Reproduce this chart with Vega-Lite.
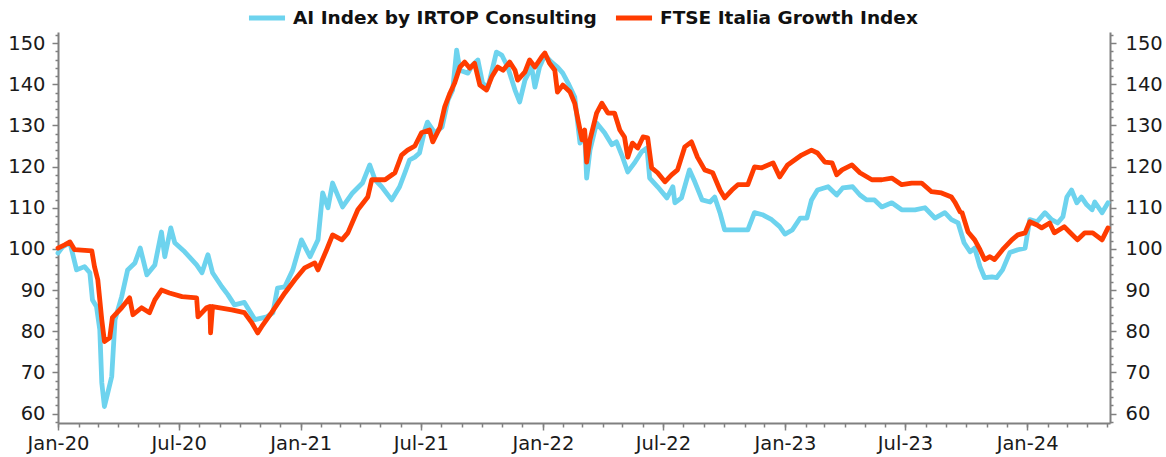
{
  "$schema": "https://vega.github.io/schema/vega-lite/v6.json",
  "width": 1052,
  "height": 391,
  "autosize": {"type": "none"},
  "padding": {"left": 58, "top": 32, "right": 56, "bottom": 34},
  "config": {
    "view": {"stroke": null},
    "font": "DejaVu Sans",
    "axis": {
      "domainColor": "#808080",
      "domainWidth": 2,
      "tickColor": "#808080",
      "tickWidth": 1.5,
      "labelColor": "#1a1a1a",
      "labelFont": "DejaVu Sans",
      "labelFontSize": 19.5,
      "grid": false,
      "title": null
    }
  },
  "datasets": {
    "series": [
      {"d":"2020-01-01","s":"AI Index by IRTOP Consulting","v":99.0},
      {"d":"2020-01-08","s":"AI Index by IRTOP Consulting","v":100.5},
      {"d":"2020-01-19","s":"AI Index by IRTOP Consulting","v":101.5},
      {"d":"2020-01-29","s":"AI Index by IRTOP Consulting","v":94.9},
      {"d":"2020-02-10","s":"AI Index by IRTOP Consulting","v":95.7},
      {"d":"2020-02-18","s":"AI Index by IRTOP Consulting","v":94.2},
      {"d":"2020-02-22","s":"AI Index by IRTOP Consulting","v":87.6},
      {"d":"2020-02-28","s":"AI Index by IRTOP Consulting","v":86.0},
      {"d":"2020-03-04","s":"AI Index by IRTOP Consulting","v":80.4},
      {"d":"2020-03-07","s":"AI Index by IRTOP Consulting","v":67.5},
      {"d":"2020-03-11","s":"AI Index by IRTOP Consulting","v":61.7},
      {"d":"2020-03-16","s":"AI Index by IRTOP Consulting","v":65.0},
      {"d":"2020-03-22","s":"AI Index by IRTOP Consulting","v":69.0},
      {"d":"2020-03-27","s":"AI Index by IRTOP Consulting","v":82.8},
      {"d":"2020-04-06","s":"AI Index by IRTOP Consulting","v":88.4},
      {"d":"2020-04-15","s":"AI Index by IRTOP Consulting","v":94.9},
      {"d":"2020-04-26","s":"AI Index by IRTOP Consulting","v":96.6},
      {"d":"2020-05-04","s":"AI Index by IRTOP Consulting","v":100.2},
      {"d":"2020-05-14","s":"AI Index by IRTOP Consulting","v":93.7},
      {"d":"2020-05-26","s":"AI Index by IRTOP Consulting","v":96.1},
      {"d":"2020-06-05","s":"AI Index by IRTOP Consulting","v":104.1},
      {"d":"2020-06-10","s":"AI Index by IRTOP Consulting","v":98.1},
      {"d":"2020-06-19","s":"AI Index by IRTOP Consulting","v":105.1},
      {"d":"2020-06-25","s":"AI Index by IRTOP Consulting","v":101.5},
      {"d":"2020-07-10","s":"AI Index by IRTOP Consulting","v":99.3},
      {"d":"2020-07-28","s":"AI Index by IRTOP Consulting","v":96.1},
      {"d":"2020-08-05","s":"AI Index by IRTOP Consulting","v":94.2},
      {"d":"2020-08-14","s":"AI Index by IRTOP Consulting","v":98.6},
      {"d":"2020-08-21","s":"AI Index by IRTOP Consulting","v":94.2},
      {"d":"2020-09-04","s":"AI Index by IRTOP Consulting","v":90.8},
      {"d":"2020-09-13","s":"AI Index by IRTOP Consulting","v":88.9},
      {"d":"2020-09-23","s":"AI Index by IRTOP Consulting","v":86.4},
      {"d":"2020-10-08","s":"AI Index by IRTOP Consulting","v":87.0},
      {"d":"2020-10-24","s":"AI Index by IRTOP Consulting","v":82.8},
      {"d":"2020-11-11","s":"AI Index by IRTOP Consulting","v":83.5},
      {"d":"2020-11-20","s":"AI Index by IRTOP Consulting","v":84.5},
      {"d":"2020-11-27","s":"AI Index by IRTOP Consulting","v":90.5},
      {"d":"2020-12-08","s":"AI Index by IRTOP Consulting","v":90.8},
      {"d":"2020-12-20","s":"AI Index by IRTOP Consulting","v":94.9},
      {"d":"2021-01-02","s":"AI Index by IRTOP Consulting","v":102.2},
      {"d":"2021-01-15","s":"AI Index by IRTOP Consulting","v":98.1},
      {"d":"2021-01-27","s":"AI Index by IRTOP Consulting","v":102.2},
      {"d":"2021-02-03","s":"AI Index by IRTOP Consulting","v":113.6},
      {"d":"2021-02-11","s":"AI Index by IRTOP Consulting","v":110.0},
      {"d":"2021-02-18","s":"AI Index by IRTOP Consulting","v":116.0},
      {"d":"2021-03-05","s":"AI Index by IRTOP Consulting","v":110.2},
      {"d":"2021-03-20","s":"AI Index by IRTOP Consulting","v":113.6},
      {"d":"2021-04-04","s":"AI Index by IRTOP Consulting","v":116.0},
      {"d":"2021-04-15","s":"AI Index by IRTOP Consulting","v":120.4},
      {"d":"2021-04-23","s":"AI Index by IRTOP Consulting","v":116.8},
      {"d":"2021-05-03","s":"AI Index by IRTOP Consulting","v":115.1},
      {"d":"2021-05-18","s":"AI Index by IRTOP Consulting","v":111.9},
      {"d":"2021-05-30","s":"AI Index by IRTOP Consulting","v":115.1},
      {"d":"2021-06-07","s":"AI Index by IRTOP Consulting","v":118.5},
      {"d":"2021-06-14","s":"AI Index by IRTOP Consulting","v":121.6},
      {"d":"2021-06-22","s":"AI Index by IRTOP Consulting","v":122.3},
      {"d":"2021-06-29","s":"AI Index by IRTOP Consulting","v":123.3},
      {"d":"2021-07-07","s":"AI Index by IRTOP Consulting","v":128.9},
      {"d":"2021-07-11","s":"AI Index by IRTOP Consulting","v":130.8},
      {"d":"2021-07-22","s":"AI Index by IRTOP Consulting","v":128.2},
      {"d":"2021-08-02","s":"AI Index by IRTOP Consulting","v":129.6},
      {"d":"2021-08-11","s":"AI Index by IRTOP Consulting","v":136.2},
      {"d":"2021-08-18","s":"AI Index by IRTOP Consulting","v":138.6},
      {"d":"2021-08-24","s":"AI Index by IRTOP Consulting","v":148.3},
      {"d":"2021-08-29","s":"AI Index by IRTOP Consulting","v":143.4},
      {"d":"2021-09-10","s":"AI Index by IRTOP Consulting","v":142.7},
      {"d":"2021-09-17","s":"AI Index by IRTOP Consulting","v":144.7},
      {"d":"2021-09-25","s":"AI Index by IRTOP Consulting","v":145.9},
      {"d":"2021-10-02","s":"AI Index by IRTOP Consulting","v":140.3},
      {"d":"2021-10-10","s":"AI Index by IRTOP Consulting","v":139.1},
      {"d":"2021-10-23","s":"AI Index by IRTOP Consulting","v":147.8},
      {"d":"2021-10-31","s":"AI Index by IRTOP Consulting","v":147.1},
      {"d":"2021-11-09","s":"AI Index by IRTOP Consulting","v":144.2},
      {"d":"2021-11-20","s":"AI Index by IRTOP Consulting","v":138.6},
      {"d":"2021-11-27","s":"AI Index by IRTOP Consulting","v":135.7},
      {"d":"2021-12-05","s":"AI Index by IRTOP Consulting","v":141.0},
      {"d":"2021-12-15","s":"AI Index by IRTOP Consulting","v":144.2},
      {"d":"2021-12-20","s":"AI Index by IRTOP Consulting","v":139.3},
      {"d":"2021-12-27","s":"AI Index by IRTOP Consulting","v":144.2},
      {"d":"2022-01-04","s":"AI Index by IRTOP Consulting","v":147.1},
      {"d":"2022-01-14","s":"AI Index by IRTOP Consulting","v":145.4},
      {"d":"2022-01-23","s":"AI Index by IRTOP Consulting","v":144.2},
      {"d":"2022-01-31","s":"AI Index by IRTOP Consulting","v":142.7},
      {"d":"2022-02-08","s":"AI Index by IRTOP Consulting","v":140.3},
      {"d":"2022-02-18","s":"AI Index by IRTOP Consulting","v":136.9},
      {"d":"2022-02-26","s":"AI Index by IRTOP Consulting","v":125.7},
      {"d":"2022-03-05","s":"AI Index by IRTOP Consulting","v":128.2},
      {"d":"2022-03-08","s":"AI Index by IRTOP Consulting","v":117.2},
      {"d":"2022-03-13","s":"AI Index by IRTOP Consulting","v":124.0},
      {"d":"2022-03-23","s":"AI Index by IRTOP Consulting","v":130.6},
      {"d":"2022-04-04","s":"AI Index by IRTOP Consulting","v":128.2},
      {"d":"2022-04-15","s":"AI Index by IRTOP Consulting","v":125.3},
      {"d":"2022-04-22","s":"AI Index by IRTOP Consulting","v":126.0},
      {"d":"2022-04-30","s":"AI Index by IRTOP Consulting","v":122.8},
      {"d":"2022-05-09","s":"AI Index by IRTOP Consulting","v":118.7},
      {"d":"2022-05-20","s":"AI Index by IRTOP Consulting","v":121.1},
      {"d":"2022-05-30","s":"AI Index by IRTOP Consulting","v":123.6},
      {"d":"2022-06-07","s":"AI Index by IRTOP Consulting","v":124.5},
      {"d":"2022-06-11","s":"AI Index by IRTOP Consulting","v":117.2},
      {"d":"2022-06-23","s":"AI Index by IRTOP Consulting","v":115.1},
      {"d":"2022-07-07","s":"AI Index by IRTOP Consulting","v":112.4},
      {"d":"2022-07-16","s":"AI Index by IRTOP Consulting","v":115.1},
      {"d":"2022-07-19","s":"AI Index by IRTOP Consulting","v":111.2},
      {"d":"2022-07-29","s":"AI Index by IRTOP Consulting","v":112.4},
      {"d":"2022-08-10","s":"AI Index by IRTOP Consulting","v":119.2},
      {"d":"2022-08-18","s":"AI Index by IRTOP Consulting","v":116.3},
      {"d":"2022-08-29","s":"AI Index by IRTOP Consulting","v":111.9},
      {"d":"2022-09-10","s":"AI Index by IRTOP Consulting","v":111.4},
      {"d":"2022-09-17","s":"AI Index by IRTOP Consulting","v":112.6},
      {"d":"2022-09-25","s":"AI Index by IRTOP Consulting","v":108.8},
      {"d":"2022-10-02","s":"AI Index by IRTOP Consulting","v":104.6},
      {"d":"2022-10-17","s":"AI Index by IRTOP Consulting","v":104.6},
      {"d":"2022-11-06","s":"AI Index by IRTOP Consulting","v":104.6},
      {"d":"2022-11-16","s":"AI Index by IRTOP Consulting","v":108.8},
      {"d":"2022-11-28","s":"AI Index by IRTOP Consulting","v":108.3},
      {"d":"2022-12-12","s":"AI Index by IRTOP Consulting","v":107.1},
      {"d":"2022-12-24","s":"AI Index by IRTOP Consulting","v":105.4},
      {"d":"2023-01-01","s":"AI Index by IRTOP Consulting","v":103.6},
      {"d":"2023-01-12","s":"AI Index by IRTOP Consulting","v":104.6},
      {"d":"2023-01-24","s":"AI Index by IRTOP Consulting","v":107.5},
      {"d":"2023-02-03","s":"AI Index by IRTOP Consulting","v":107.5},
      {"d":"2023-02-10","s":"AI Index by IRTOP Consulting","v":111.9},
      {"d":"2023-02-19","s":"AI Index by IRTOP Consulting","v":114.3},
      {"d":"2023-03-07","s":"AI Index by IRTOP Consulting","v":115.1},
      {"d":"2023-03-20","s":"AI Index by IRTOP Consulting","v":113.1},
      {"d":"2023-03-29","s":"AI Index by IRTOP Consulting","v":114.8},
      {"d":"2023-04-13","s":"AI Index by IRTOP Consulting","v":115.1},
      {"d":"2023-04-24","s":"AI Index by IRTOP Consulting","v":113.1},
      {"d":"2023-05-04","s":"AI Index by IRTOP Consulting","v":111.9},
      {"d":"2023-05-16","s":"AI Index by IRTOP Consulting","v":111.9},
      {"d":"2023-05-27","s":"AI Index by IRTOP Consulting","v":110.2},
      {"d":"2023-06-11","s":"AI Index by IRTOP Consulting","v":111.2},
      {"d":"2023-06-26","s":"AI Index by IRTOP Consulting","v":109.5},
      {"d":"2023-07-16","s":"AI Index by IRTOP Consulting","v":109.5},
      {"d":"2023-07-31","s":"AI Index by IRTOP Consulting","v":110.0},
      {"d":"2023-08-15","s":"AI Index by IRTOP Consulting","v":107.5},
      {"d":"2023-08-30","s":"AI Index by IRTOP Consulting","v":108.8},
      {"d":"2023-09-09","s":"AI Index by IRTOP Consulting","v":107.1},
      {"d":"2023-09-19","s":"AI Index by IRTOP Consulting","v":106.3},
      {"d":"2023-09-28","s":"AI Index by IRTOP Consulting","v":101.5},
      {"d":"2023-10-07","s":"AI Index by IRTOP Consulting","v":99.3},
      {"d":"2023-10-14","s":"AI Index by IRTOP Consulting","v":100.2},
      {"d":"2023-10-22","s":"AI Index by IRTOP Consulting","v":95.7},
      {"d":"2023-10-29","s":"AI Index by IRTOP Consulting","v":93.0},
      {"d":"2023-11-09","s":"AI Index by IRTOP Consulting","v":93.2},
      {"d":"2023-11-16","s":"AI Index by IRTOP Consulting","v":93.0},
      {"d":"2023-11-25","s":"AI Index by IRTOP Consulting","v":94.9},
      {"d":"2023-12-06","s":"AI Index by IRTOP Consulting","v":99.1},
      {"d":"2023-12-18","s":"AI Index by IRTOP Consulting","v":99.8},
      {"d":"2023-12-29","s":"AI Index by IRTOP Consulting","v":100.2},
      {"d":"2024-01-05","s":"AI Index by IRTOP Consulting","v":107.1},
      {"d":"2024-01-16","s":"AI Index by IRTOP Consulting","v":106.6},
      {"d":"2024-01-28","s":"AI Index by IRTOP Consulting","v":108.8},
      {"d":"2024-02-07","s":"AI Index by IRTOP Consulting","v":107.1},
      {"d":"2024-02-16","s":"AI Index by IRTOP Consulting","v":106.3},
      {"d":"2024-02-24","s":"AI Index by IRTOP Consulting","v":107.8},
      {"d":"2024-03-01","s":"AI Index by IRTOP Consulting","v":112.6},
      {"d":"2024-03-08","s":"AI Index by IRTOP Consulting","v":114.3},
      {"d":"2024-03-16","s":"AI Index by IRTOP Consulting","v":111.2},
      {"d":"2024-03-23","s":"AI Index by IRTOP Consulting","v":112.6},
      {"d":"2024-03-31","s":"AI Index by IRTOP Consulting","v":110.7},
      {"d":"2024-04-08","s":"AI Index by IRTOP Consulting","v":109.5},
      {"d":"2024-04-12","s":"AI Index by IRTOP Consulting","v":111.4},
      {"d":"2024-04-23","s":"AI Index by IRTOP Consulting","v":108.8},
      {"d":"2024-05-02","s":"AI Index by IRTOP Consulting","v":111.2},

      {"d":"2020-01-01","s":"FTSE Italia Growth Index","v":100.2},
      {"d":"2020-01-11","s":"FTSE Italia Growth Index","v":101.0},
      {"d":"2020-01-19","s":"FTSE Italia Growth Index","v":101.7},
      {"d":"2020-01-26","s":"FTSE Italia Growth Index","v":99.8},
      {"d":"2020-02-21","s":"FTSE Italia Growth Index","v":99.5},
      {"d":"2020-02-25","s":"FTSE Italia Growth Index","v":95.7},
      {"d":"2020-03-01","s":"FTSE Italia Growth Index","v":92.5},
      {"d":"2020-03-07","s":"FTSE Italia Growth Index","v":82.8},
      {"d":"2020-03-11","s":"FTSE Italia Growth Index","v":77.5},
      {"d":"2020-03-19","s":"FTSE Italia Growth Index","v":78.4},
      {"d":"2020-03-23","s":"FTSE Italia Growth Index","v":83.3},
      {"d":"2020-04-06","s":"FTSE Italia Growth Index","v":85.7},
      {"d":"2020-04-18","s":"FTSE Italia Growth Index","v":88.1},
      {"d":"2020-04-23","s":"FTSE Italia Growth Index","v":84.0},
      {"d":"2020-05-06","s":"FTSE Italia Growth Index","v":85.7},
      {"d":"2020-05-18","s":"FTSE Italia Growth Index","v":84.5},
      {"d":"2020-05-26","s":"FTSE Italia Growth Index","v":87.6},
      {"d":"2020-06-05","s":"FTSE Italia Growth Index","v":90.0},
      {"d":"2020-06-17","s":"FTSE Italia Growth Index","v":89.3},
      {"d":"2020-07-06","s":"FTSE Italia Growth Index","v":88.4},
      {"d":"2020-07-28","s":"FTSE Italia Growth Index","v":88.1},
      {"d":"2020-07-30","s":"FTSE Italia Growth Index","v":83.5},
      {"d":"2020-08-12","s":"FTSE Italia Growth Index","v":85.7},
      {"d":"2020-08-17","s":"FTSE Italia Growth Index","v":86.0},
      {"d":"2020-08-18","s":"FTSE Italia Growth Index","v":79.6},
      {"d":"2020-08-21","s":"FTSE Italia Growth Index","v":86.0},
      {"d":"2020-09-19","s":"FTSE Italia Growth Index","v":85.2},
      {"d":"2020-10-08","s":"FTSE Italia Growth Index","v":84.5},
      {"d":"2020-10-19","s":"FTSE Italia Growth Index","v":82.1},
      {"d":"2020-10-28","s":"FTSE Italia Growth Index","v":79.6},
      {"d":"2020-11-03","s":"FTSE Italia Growth Index","v":81.1},
      {"d":"2020-11-18","s":"FTSE Italia Growth Index","v":84.5},
      {"d":"2020-12-08","s":"FTSE Italia Growth Index","v":89.3},
      {"d":"2020-12-23","s":"FTSE Italia Growth Index","v":92.5},
      {"d":"2021-01-07","s":"FTSE Italia Growth Index","v":95.4},
      {"d":"2021-01-22","s":"FTSE Italia Growth Index","v":96.6},
      {"d":"2021-01-27","s":"FTSE Italia Growth Index","v":94.9},
      {"d":"2021-02-09","s":"FTSE Italia Growth Index","v":99.8},
      {"d":"2021-02-18","s":"FTSE Italia Growth Index","v":103.4},
      {"d":"2021-03-04","s":"FTSE Italia Growth Index","v":102.2},
      {"d":"2021-03-13","s":"FTSE Italia Growth Index","v":103.9},
      {"d":"2021-03-28","s":"FTSE Italia Growth Index","v":109.5},
      {"d":"2021-04-12","s":"FTSE Italia Growth Index","v":112.6},
      {"d":"2021-04-18","s":"FTSE Italia Growth Index","v":116.8},
      {"d":"2021-05-08","s":"FTSE Italia Growth Index","v":116.8},
      {"d":"2021-05-23","s":"FTSE Italia Growth Index","v":118.5},
      {"d":"2021-06-02","s":"FTSE Italia Growth Index","v":122.8},
      {"d":"2021-06-11","s":"FTSE Italia Growth Index","v":124.0},
      {"d":"2021-06-22","s":"FTSE Italia Growth Index","v":125.0},
      {"d":"2021-07-02","s":"FTSE Italia Growth Index","v":128.2},
      {"d":"2021-07-14","s":"FTSE Italia Growth Index","v":128.9},
      {"d":"2021-07-19","s":"FTSE Italia Growth Index","v":126.0},
      {"d":"2021-07-30","s":"FTSE Italia Growth Index","v":129.6},
      {"d":"2021-08-06","s":"FTSE Italia Growth Index","v":134.5},
      {"d":"2021-08-14","s":"FTSE Italia Growth Index","v":137.9},
      {"d":"2021-08-21","s":"FTSE Italia Growth Index","v":140.3},
      {"d":"2021-08-29","s":"FTSE Italia Growth Index","v":144.2},
      {"d":"2021-09-05","s":"FTSE Italia Growth Index","v":145.4},
      {"d":"2021-09-13","s":"FTSE Italia Growth Index","v":143.9},
      {"d":"2021-09-20","s":"FTSE Italia Growth Index","v":145.1},
      {"d":"2021-09-28","s":"FTSE Italia Growth Index","v":139.8},
      {"d":"2021-10-08","s":"FTSE Italia Growth Index","v":138.6},
      {"d":"2021-10-16","s":"FTSE Italia Growth Index","v":141.8},
      {"d":"2021-10-25","s":"FTSE Italia Growth Index","v":144.2},
      {"d":"2021-11-02","s":"FTSE Italia Growth Index","v":143.4},
      {"d":"2021-11-12","s":"FTSE Italia Growth Index","v":145.4},
      {"d":"2021-11-20","s":"FTSE Italia Growth Index","v":143.4},
      {"d":"2021-11-24","s":"FTSE Italia Growth Index","v":141.0},
      {"d":"2021-12-05","s":"FTSE Italia Growth Index","v":143.0},
      {"d":"2021-12-12","s":"FTSE Italia Growth Index","v":145.9},
      {"d":"2021-12-20","s":"FTSE Italia Growth Index","v":144.2},
      {"d":"2021-12-30","s":"FTSE Italia Growth Index","v":146.6},
      {"d":"2022-01-04","s":"FTSE Italia Growth Index","v":147.6},
      {"d":"2022-01-11","s":"FTSE Italia Growth Index","v":145.1},
      {"d":"2022-01-19","s":"FTSE Italia Growth Index","v":143.4},
      {"d":"2022-01-23","s":"FTSE Italia Growth Index","v":138.1},
      {"d":"2022-01-31","s":"FTSE Italia Growth Index","v":139.8},
      {"d":"2022-02-11","s":"FTSE Italia Growth Index","v":138.1},
      {"d":"2022-02-18","s":"FTSE Italia Growth Index","v":135.4},
      {"d":"2022-02-23","s":"FTSE Italia Growth Index","v":131.3},
      {"d":"2022-03-01","s":"FTSE Italia Growth Index","v":126.5},
      {"d":"2022-03-05","s":"FTSE Italia Growth Index","v":128.9},
      {"d":"2022-03-08","s":"FTSE Italia Growth Index","v":121.1},
      {"d":"2022-03-13","s":"FTSE Italia Growth Index","v":126.5},
      {"d":"2022-03-23","s":"FTSE Italia Growth Index","v":133.0},
      {"d":"2022-03-31","s":"FTSE Italia Growth Index","v":135.4},
      {"d":"2022-04-09","s":"FTSE Italia Growth Index","v":133.0},
      {"d":"2022-04-19","s":"FTSE Italia Growth Index","v":133.0},
      {"d":"2022-04-27","s":"FTSE Italia Growth Index","v":128.9},
      {"d":"2022-05-04","s":"FTSE Italia Growth Index","v":127.2},
      {"d":"2022-05-09","s":"FTSE Italia Growth Index","v":122.3},
      {"d":"2022-05-16","s":"FTSE Italia Growth Index","v":125.7},
      {"d":"2022-05-24","s":"FTSE Italia Growth Index","v":124.5},
      {"d":"2022-06-01","s":"FTSE Italia Growth Index","v":127.2},
      {"d":"2022-06-08","s":"FTSE Italia Growth Index","v":127.0},
      {"d":"2022-06-14","s":"FTSE Italia Growth Index","v":119.7},
      {"d":"2022-06-23","s":"FTSE Italia Growth Index","v":118.5},
      {"d":"2022-07-04","s":"FTSE Italia Growth Index","v":116.3},
      {"d":"2022-07-14","s":"FTSE Italia Growth Index","v":118.0},
      {"d":"2022-07-23","s":"FTSE Italia Growth Index","v":119.2},
      {"d":"2022-08-03","s":"FTSE Italia Growth Index","v":124.8},
      {"d":"2022-08-13","s":"FTSE Italia Growth Index","v":126.0},
      {"d":"2022-08-22","s":"FTSE Italia Growth Index","v":122.3},
      {"d":"2022-09-02","s":"FTSE Italia Growth Index","v":119.2},
      {"d":"2022-09-14","s":"FTSE Italia Growth Index","v":118.5},
      {"d":"2022-09-25","s":"FTSE Italia Growth Index","v":114.3},
      {"d":"2022-10-02","s":"FTSE Italia Growth Index","v":112.4},
      {"d":"2022-10-13","s":"FTSE Italia Growth Index","v":114.3},
      {"d":"2022-10-22","s":"FTSE Italia Growth Index","v":115.6},
      {"d":"2022-11-06","s":"FTSE Italia Growth Index","v":115.6},
      {"d":"2022-11-16","s":"FTSE Italia Growth Index","v":119.9},
      {"d":"2022-11-27","s":"FTSE Italia Growth Index","v":119.7},
      {"d":"2022-12-14","s":"FTSE Italia Growth Index","v":120.9},
      {"d":"2022-12-24","s":"FTSE Italia Growth Index","v":117.5},
      {"d":"2023-01-05","s":"FTSE Italia Growth Index","v":120.4},
      {"d":"2023-01-26","s":"FTSE Italia Growth Index","v":122.8},
      {"d":"2023-02-10","s":"FTSE Italia Growth Index","v":124.0},
      {"d":"2023-02-19","s":"FTSE Italia Growth Index","v":123.3},
      {"d":"2023-03-02","s":"FTSE Italia Growth Index","v":121.1},
      {"d":"2023-03-13","s":"FTSE Italia Growth Index","v":120.9},
      {"d":"2023-03-20","s":"FTSE Italia Growth Index","v":118.0},
      {"d":"2023-03-28","s":"FTSE Italia Growth Index","v":119.2},
      {"d":"2023-04-12","s":"FTSE Italia Growth Index","v":120.4},
      {"d":"2023-04-24","s":"FTSE Italia Growth Index","v":118.5},
      {"d":"2023-05-12","s":"FTSE Italia Growth Index","v":116.8},
      {"d":"2023-05-27","s":"FTSE Italia Growth Index","v":116.8},
      {"d":"2023-06-11","s":"FTSE Italia Growth Index","v":117.2},
      {"d":"2023-06-26","s":"FTSE Italia Growth Index","v":115.6},
      {"d":"2023-07-11","s":"FTSE Italia Growth Index","v":116.0},
      {"d":"2023-07-26","s":"FTSE Italia Growth Index","v":116.0},
      {"d":"2023-08-10","s":"FTSE Italia Growth Index","v":113.9},
      {"d":"2023-08-25","s":"FTSE Italia Growth Index","v":113.6},
      {"d":"2023-09-09","s":"FTSE Italia Growth Index","v":112.6},
      {"d":"2023-09-14","s":"FTSE Italia Growth Index","v":111.4},
      {"d":"2023-09-22","s":"FTSE Italia Growth Index","v":109.0},
      {"d":"2023-09-25","s":"FTSE Italia Growth Index","v":108.8},
      {"d":"2023-10-04","s":"FTSE Italia Growth Index","v":104.1},
      {"d":"2023-10-14","s":"FTSE Italia Growth Index","v":102.2},
      {"d":"2023-10-22","s":"FTSE Italia Growth Index","v":99.8},
      {"d":"2023-10-29","s":"FTSE Italia Growth Index","v":97.4},
      {"d":"2023-11-06","s":"FTSE Italia Growth Index","v":98.1},
      {"d":"2023-11-13","s":"FTSE Italia Growth Index","v":97.4},
      {"d":"2023-11-25","s":"FTSE Italia Growth Index","v":99.8},
      {"d":"2023-12-09","s":"FTSE Italia Growth Index","v":102.2},
      {"d":"2023-12-18","s":"FTSE Italia Growth Index","v":103.4},
      {"d":"2023-12-29","s":"FTSE Italia Growth Index","v":103.9},
      {"d":"2024-01-05","s":"FTSE Italia Growth Index","v":106.6},
      {"d":"2024-01-16","s":"FTSE Italia Growth Index","v":105.8},
      {"d":"2024-01-23","s":"FTSE Italia Growth Index","v":105.1},
      {"d":"2024-02-04","s":"FTSE Italia Growth Index","v":106.3},
      {"d":"2024-02-11","s":"FTSE Italia Growth Index","v":103.9},
      {"d":"2024-02-26","s":"FTSE Italia Growth Index","v":105.4},
      {"d":"2024-03-05","s":"FTSE Italia Growth Index","v":104.1},
      {"d":"2024-03-17","s":"FTSE Italia Growth Index","v":102.2},
      {"d":"2024-03-28","s":"FTSE Italia Growth Index","v":103.9},
      {"d":"2024-04-09","s":"FTSE Italia Growth Index","v":103.9},
      {"d":"2024-04-23","s":"FTSE Italia Growth Index","v":102.2},
      {"d":"2024-05-02","s":"FTSE Italia Growth Index","v":105.1}
    ]
  },
  "data": {"name": "series"},
  "layer": [
    {
      "mark": {"type": "line", "strokeWidth": 4.8, "strokeJoin": "round", "strokeCap": "round"},
      "encoding": {
        "x": {
          "field": "d", "type": "temporal",
          "scale": {"type": "utc", "domain": [{"year": 2020, "month": 1, "date": 1, "utc": true}, {"year": 2024, "month": 5, "date": 5, "utc": true}]},
          "axis": {"orient": "bottom", "format": "%b-%y", "tickCount": {"interval": "month", "step": 6}, "tickSize": 7, "labelPadding": 4, "labelOverlap": false, "labelFlush": false}
        },
        "y": {
          "field": "v", "type": "quantitative",
          "scale": {"domain": [57.7, 152.7], "zero": false, "nice": false},
          "axis": {"orient": "left", "values": [60, 70, 80, 90, 100, 110, 120, 130, 140, 150], "tickSize": 6, "labelPadding": 7}
        },
        "color": {
          "field": "s", "type": "nominal",
          "scale": {"domain": ["AI Index by IRTOP Consulting", "FTSE Italia Growth Index"], "range": ["#6DD3EE", "#FF3C00"]},
          "legend": {
            "title": null, "orient": "none", "legendX": 188, "legendY": -35, "direction": "horizontal",
            "symbolType": "stroke", "symbolSize": 1300, "symbolStrokeWidth": 5,
            "labelFont": "DejaVu Sans", "labelFontSize": 18.5, "labelFontWeight": "bold", "labelColor": "#111111",
            "labelLimit": 500, "columnPadding": 8, "labelOffset": 5
          }
        }
      }
    },
    {
      "mark": {"type": "line", "strokeOpacity": 0},
      "encoding": {
        "x": {"field": "d", "type": "temporal", "axis": {"orient": "bottom", "labels": false, "domain": false, "tickCount": {"interval": "month", "step": 1}, "tickSize": 4}},
        "y": {"field": "v", "type": "quantitative", "axis": {"orient": "right", "values": [60, 70, 80, 90, 100, 110, 120, 130, 140, 150], "tickSize": 6, "labelPadding": 9}},
        "detail": {"field": "s"}
      }
    },
    {
      "mark": {"type": "line", "strokeOpacity": 0},
      "encoding": {
        "x": {"field": "d", "type": "temporal", "axis": null},
        "y": {"field": "v", "type": "quantitative", "axis": {"orient": "left", "labels": false, "domain": false, "tickSize": 3, "values": [58, 62, 64, 66, 68, 72, 74, 76, 78, 82, 84, 86, 88, 92, 94, 96, 98, 102, 104, 106, 108, 112, 114, 116, 118, 122, 124, 126, 128, 132, 134, 136, 138, 142, 144, 146, 148, 152]}},
        "detail": {"field": "s"}
      }
    },
    {
      "mark": {"type": "line", "strokeOpacity": 0},
      "encoding": {
        "x": {"field": "d", "type": "temporal", "axis": null},
        "y": {"field": "v", "type": "quantitative", "axis": {"orient": "right", "labels": false, "domain": false, "tickSize": 3, "values": [58, 62, 64, 66, 68, 72, 74, 76, 78, 82, 84, 86, 88, 92, 94, 96, 98, 102, 104, 106, 108, 112, 114, 116, 118, 122, 124, 126, 128, 132, 134, 136, 138, 142, 144, 146, 148, 152]}},
        "detail": {"field": "s"}
      }
    }
  ],
  "resolve": {"axis": {"x": "independent", "y": "independent"}}
}
